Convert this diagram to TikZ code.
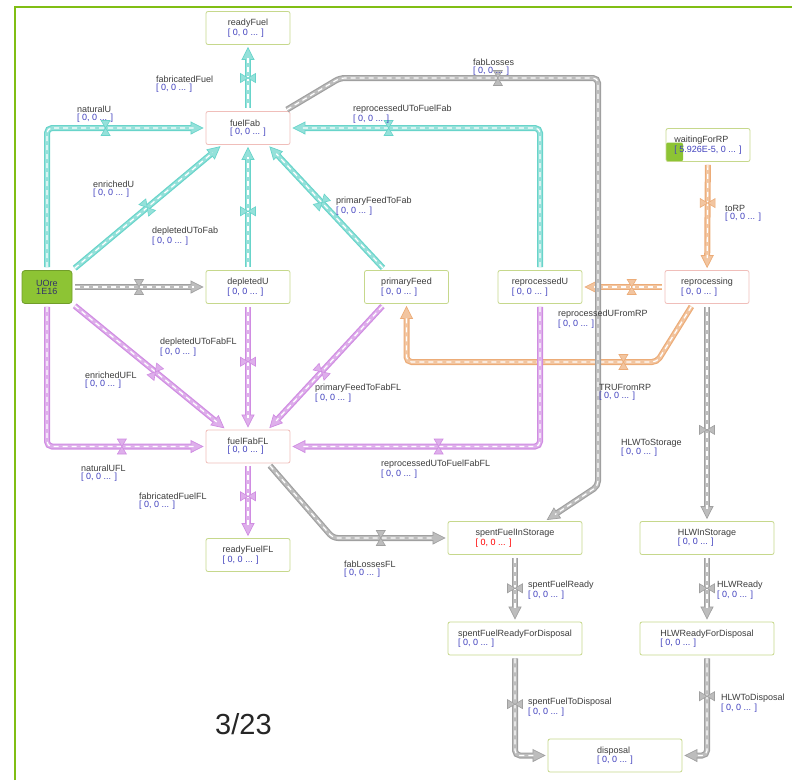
\documentclass[tikz,border=0pt]{standalone}
\usepackage{fontspec}
\setmainfont{Liberation Sans}
\usetikzlibrary{arrows.meta,decorations.markings}

\definecolor{pcyan}{RGB}{104,212,202}
\definecolor{ppurple}{RGB}{208,140,226}
\definecolor{porange}{RGB}{236,172,120}
\definecolor{pgray}{RGB}{160,160,160}
\definecolor{boxgreen}{RGB}{198,216,140}
\definecolor{boxpink}{RGB}{240,190,186}
\definecolor{oregreen}{RGB}{141,196,52}
\definecolor{framegreen}{RGB}{128,190,20}
\definecolor{valblue}{RGB}{64,64,190}
\definecolor{txtgray}{RGB}{60,60,60}

\newcommand{\val}{\textcolor{valblue}{[ 0, 0 ... ]}}
\newcommand{\drawvalve}{\filldraw[pipec, fill=pipec!70, line width=0.6pt, solid, sharp corners, shorten >=0pt, shorten <=0pt]
  (-4.5pt,7.5pt) -- (4.5pt,7.5pt) -- (0pt,0pt) -- cycle (-4.5pt,-7.5pt) -- (4.5pt,-7.5pt) -- (0pt,0pt) -- cycle;}

\tikzset{
  stock/.style={draw=boxgreen, fill=white, rounded corners=2pt, line width=0.8pt, minimum width=84pt, minimum height=33pt, align=left, inner sep=2pt, text=txtgray},
  wide/.style={minimum width=134pt},
  conv/.style={draw=boxpink},
  ore/.style={draw=oregreen!80!black, fill=oregreen, rounded corners=3pt, line width=0.8pt, minimum width=50pt, minimum height=33pt, align=left, inner sep=2pt, text=black!65!blue!60!gray},
  flowlbl/.style={anchor=north west, align=left, inner sep=0pt, text=txtgray},
  pipe/.style={/utils/exec={\colorlet{pipec}{#1}}, draw=white, line width=1.2pt, dash pattern=on 5pt off 4pt,
    shorten <=3pt, shorten >=12pt, rounded corners=5pt,
    preaction={draw=#1, solid, line width=6pt, shorten >=2pt, -{Triangle[length=13pt,width=13pt,line width=0.7pt,fill=#1!70]}},
    preaction={draw=#1!70, solid, line width=3.6pt, shorten >=12pt}},
  valve/.style={postaction={decorate, decoration={markings, mark=at position #1 with {\drawvalve}}}}
}

\begin{document}
\begin{tikzpicture}[x=1pt, y=-1pt, font=\fontsize{9}{8}\selectfont]
\useasboundingbox (0,0) rectangle (792,780);
\draw[framegreen, line width=2pt] (15,780) -- (15,7) -- (792,7);

\node[stock] (readyFuel) at (248,28) {readyFuel\\\val};
\node[stock, conv] (fuelFab) at (248,128) {fuelFab\\\val};
\node[ore] (uOre) at (47,287) {UOre\\1E16};
\node[stock] (depletedU) at (248,287) {depletedU\\\val};
\node[stock] (primaryFeed) at (406.5,287) {primaryFeed\\\val};
\node[stock] (reprocessedU) at (540,287) {reprocessedU\\\val};
\node[stock, conv] (reprocessing) at (707,287) {reprocessing\\\val};
\node[stock, path picture={\fill[oregreen] (path picture bounding box.south west) rectangle ([xshift=17pt,yshift=19pt]path picture bounding box.south west);}] (waitingForRP) at (708,145) {waitingForRP\\\textcolor{valblue}{[ 5.926E-5, 0 ... ]}};
\node[stock, conv] (fuelFabFL) at (248,446.5) {fuelFabFL\\\val};
\node[stock] (readyFuelFL) at (248,555) {readyFuelFL\\\val};
\node[stock, wide] (spentFuelInStorage) at (515,538) {spentFuelInStorage\\\textcolor{red}{[ 0, 0 ... ]}};
\node[stock, wide] (hlwInStorage) at (707,538) {HLWInStorage\\\val};
\node[stock, wide] (spentFuelReadyForDisposal) at (515,638.5) {spentFuelReadyForDisposal\\\val};
\node[stock, wide] (hlwReadyForDisposal) at (707,638.5) {HLWReadyForDisposal\\\val};
\node[stock, wide] (disposal) at (615,755.5) {disposal\\\val};

\draw[pipe=porange, valve=.38] (waitingForRP) -- (reprocessing);
\draw[pipe=porange, valve=.4] (reprocessing) -- (reprocessedU);
\draw[pipe=porange, valve=.27] ([xshift=-14pt]reprocessing.south) -- (657,362) -| (primaryFeed.south);

\draw[pipe=pcyan, valve=.5] (fuelFab) -- (readyFuel);
\draw[pipe=pcyan, valve=.665] (uOre.north) |- (fuelFab.west);
\draw[pipe=pcyan, valve=.5] (uOre.north east) -- ([xshift=-26pt]fuelFab.south);
\draw[pipe=pcyan, valve=.47] (depletedU) -- (fuelFab);
\draw[pipe=pcyan, valve=.54] ([xshift=-21.5pt]primaryFeed.north) -- ([xshift=20pt]fuelFab.south);
\draw[pipe=pcyan, valve=.748] (reprocessedU.north) |- (fuelFab.east);

\draw[pipe=ppurple, valve=.46] (depletedU) -- (fuelFabFL);
\draw[pipe=ppurple, valve=.54] (uOre.south east) -- ([xshift=-22pt]fuelFabFL.north);
\draw[pipe=ppurple, valve=.54] ([xshift=-22pt]primaryFeed.south) -- ([xshift=20pt]fuelFabFL.north);
\draw[pipe=ppurple, valve=.72] (uOre.south) |- (fuelFabFL.west);
\draw[pipe=ppurple, valve=.62] (reprocessedU.south) |- (fuelFabFL.east);
\draw[pipe=ppurple, valve=.44] (fuelFabFL) -- (readyFuelFL);

\draw[pipe=pgray, valve=.5] (uOre) -- (depletedU);
\draw[pipe=pgray, valve=.281] ([xshift=-6pt]fuelFab.north east) -- (340,78) -- (598,78) -- (598,486) -- ([xshift=30pt]spentFuelInStorage.north);
\draw[pipe=pgray, valve=.686] ([xshift=20pt]fuelFabFL.south) -- (333,538) -- (spentFuelInStorage.west);
\draw[pipe=pgray, valve=.58] (reprocessing) -- (hlwInStorage);
\draw[pipe=pgray, valve=.5] (spentFuelInStorage) -- (spentFuelReadyForDisposal);
\draw[pipe=pgray, valve=.5] (hlwInStorage) -- (hlwReadyForDisposal);
\draw[pipe=pgray, valve=.373] (spentFuelReadyForDisposal.south) |- (disposal.west);
\draw[pipe=pgray, valve=.333] (hlwReadyForDisposal.south) |- (disposal.east);

\node[flowlbl] (lFabricatedFuel) at (156,76) {fabricatedFuel\\\val};
\node[flowlbl] (lNaturalU) at (77,106) {naturalU\\\val};
\node[flowlbl] (lEnrichedU) at (93,181) {enrichedU\\\val};
\node[flowlbl] (lDepletedUToFab) at (152,227) {depletedUToFab\\\val};
\node[flowlbl] (lPrimaryFeedToFab) at (336,197) {primaryFeedToFab\\\val};
\node[flowlbl] (lReprocessedUToFuelFab) at (353,105) {reprocessedUToFuelFab\\\val};
\node[flowlbl] (lFabLosses) at (473,59) {fabLosses\\\val};
\node[flowlbl] (lToRP) at (725,205) {toRP\\\val};
\node[flowlbl] (lDepletedUToFabFL) at (160,338) {depletedUToFabFL\\\val};
\node[flowlbl] (lEnrichedUFL) at (85,372) {enrichedUFL\\\val};
\node[flowlbl] (lPrimaryFeedToFabFL) at (315,384) {primaryFeedToFabFL\\\val};
\node[flowlbl] (lNaturalUFL) at (81,465) {naturalUFL\\\val};
\node[flowlbl] (lReprocessedUToFuelFabFL) at (381,460) {reprocessedUToFuelFabFL\\\val};
\node[flowlbl] (lFabricatedFuelFL) at (139,493) {fabricatedFuelFL\\\val};
\node[flowlbl] (lReprocessedUFromRP) at (558,310) {reprocessedUFromRP\\\val};
\node[flowlbl] (lTRUFromRP) at (599,384) {TRUFromRP\\\val};
\node[flowlbl] (lHLWToStorage) at (621,439) {HLWToStorage\\\val};
\node[flowlbl] (lFabLossesFL) at (344,561) {fabLossesFL\\\val};
\node[flowlbl] (lSpentFuelReady) at (528,581) {spentFuelReady\\\val};
\node[flowlbl] (lHLWReady) at (717,581) {HLWReady\\\val};
\node[flowlbl] (lSpentFuelToDisposal) at (528,698) {spentFuelToDisposal\\\val};
\node[flowlbl] (lHLWToDisposal) at (721,694) {HLWToDisposal\\\val};

\node[anchor=north west, inner sep=0pt, font=\fontsize{29}{30}\selectfont, text=black!85] (pageNo) at (215,713) {3/23};
\end{tikzpicture}
\end{document}
